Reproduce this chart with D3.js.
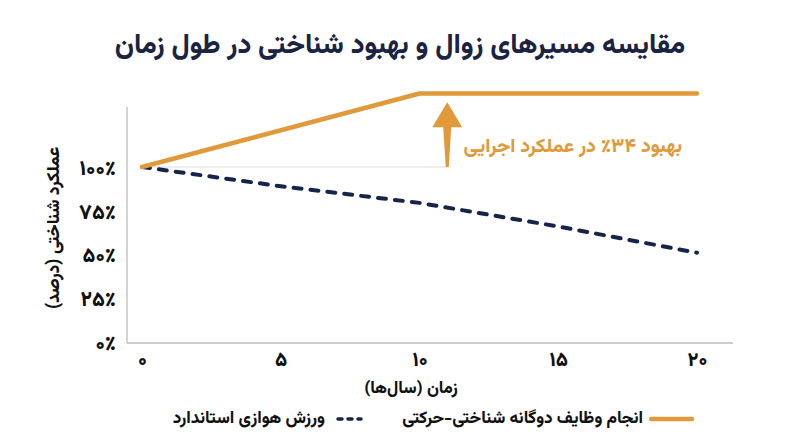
<!DOCTYPE html>
<html><head><meta charset="utf-8">
<script src="https://cdn.jsdelivr.net/npm/d3@7"></script>
<style>
html,body{margin:0;padding:0;background:#fff;}
svg{display:block;}
text{font-family:"Vazirmatn","Noto Sans Arabic","Noto Naskh Arabic","DejaVu Sans",sans-serif;font-weight:800;}
</style></head>
<body>
<svg id="c" width="800" height="447"></svg>
<script>
const title = "مقایسه مسیرهای زوال و بهبود شناختی در طول زمان";
const xTitle = "زمان (سال‌ها)";
const yTitle = "عملکرد شناختی (درصد)";
const xTickValues = [0, 5, 10, 15, 20];
const xTickLabels = ["۰", "۵", "۱۰", "۱۵", "۲۰"];
const yTickValues = [0, 25, 50, 75, 100];
const yTickLabels = ["۰٪", "۲۵٪", "۵۰٪", "۷۵٪", "۱۰۰٪"];
const dualYears = [0, 10, 20];
const dualValues = [100, 142, 142];
const aerobicYears = [0, 5, 10, 15, 20];
const aerobicValues = [100, 89, 79.5, 66, 51];
const seriesNames = ["انجام وظایف دوگانه شناختی-حرکتی", "ورزش هوازی استاندارد"];
const annotationText = "بهبود ۳۴٪ در عملکرد اجرایی";
const annotationYear = 11;
const annotationFrom = 100;
const annotationTo = 137;

const ORANGE = "#E09A3A", NAVY = "#15254A", TITLE = "#1A2442";
const svg = d3.select("#c");
const x = d3.scaleLinear().domain([0, 20]).range([142, 697]);
const y = d3.scaleLinear().domain([0, 100]).range([342, 167]);
const axisLeft = 127, axisRight = 733, axisTopVal = 134.3;

// title
svg.append("text").attr("x", 400).attr("y", 46).attr("direction", "rtl")
  .attr("text-anchor", "middle").attr("dominant-baseline", "middle")
  .attr("font-size", 27.5).attr("fill", TITLE).text(title);

// axes lines
svg.append("line").attr("x1", axisLeft).attr("x2", axisLeft)
  .attr("y1", y(axisTopVal)).attr("y2", y(0) + 1)
  .attr("stroke", "#bdbdbd").attr("stroke-width", 1.3);
svg.append("line").attr("x1", axisLeft).attr("x2", axisRight)
  .attr("y1", y(0) + 1).attr("y2", y(0) + 1)
  .attr("stroke", "#bdbdbd").attr("stroke-width", 1.3);

// x tick labels via axis
const xAxis = d3.axisBottom(x).tickValues(xTickValues)
  .tickFormat((d, i) => xTickLabels[i]).tickSize(0).tickPadding(0);
const gx = svg.append("g").attr("transform", `translate(0,${y(0) + 18})`).call(xAxis);
gx.select(".domain").remove();
gx.attr("font-family", null).attr("font-size", null);
gx.selectAll("text").attr("font-size", 20).attr("fill", "#111").attr("dy", "0.3em");

// y tick labels via axis
const yAxis = d3.axisLeft(y).tickValues(yTickValues)
  .tickFormat((d, i) => yTickLabels[i]).tickSize(0).tickPadding(0);
const gy = svg.append("g").attr("transform", `translate(116,0)`).call(yAxis);
gy.select(".domain").remove();
gy.attr("font-family", null).attr("font-size", null);
gy.selectAll("text").attr("font-size", 21).attr("fill", "#111").attr("dy", "0.35em");

// axis titles
svg.append("text").attr("x", 411).attr("y", 389).attr("direction", "rtl")
  .attr("text-anchor", "middle").attr("dominant-baseline", "middle")
  .attr("font-size", 17).attr("fill", "#111").text(xTitle);
svg.append("text").attr("transform", "translate(54,228) rotate(-90)")
  .attr("direction", "rtl").attr("text-anchor", "middle").attr("dominant-baseline", "middle")
  .attr("font-size", 17.5).attr("fill", "#111").text(yTitle);

// baseline reference line
svg.append("line").attr("x1", x(0)).attr("x2", x(annotationYear))
  .attr("y1", y(100)).attr("y2", y(100)).attr("stroke", "#e8e8e8").attr("stroke-width", 1.5);

// series
const line = d3.line().x(d => x(d[0])).y(d => y(d[1]));
svg.append("path").datum(aerobicYears.map((d, i) => [d, aerobicValues[i]]))
  .attr("d", line).attr("fill", "none").attr("stroke", NAVY).attr("stroke-width", 4)
  .attr("stroke-dasharray", "8,9").attr("stroke-linecap", "round");
svg.append("path").datum(dualYears.map((d, i) => [d, dualValues[i]]))
  .attr("d", line).attr("fill", "none").attr("stroke", ORANGE).attr("stroke-width", 4.5)
  .attr("stroke-linecap", "round").attr("stroke-linejoin", "round");

// arrow
const ax = x(annotationYear), yb = y(annotationFrom), yt = y(annotationTo);
const headBase = yt + 25;
svg.append("path").attr("d",
  `M${ax - 1.5},${yb} L${ax + 1.5},${yb} L${ax + 4},${headBase} L${ax + 15},${headBase} L${ax},${yt} L${ax - 15},${headBase} L${ax - 4},${headBase} Z`)
  .attr("fill", ORANGE);

svg.append("text").attr("x", 682).attr("y", 147).attr("direction", "rtl")
  .attr("text-anchor", "start").attr("dominant-baseline", "middle")
  .attr("font-size", 19.5).attr("fill", ORANGE).text(annotationText);

// legend
const ly = 419;
svg.append("line").attr("x1", 651).attr("x2", 692).attr("y1", ly).attr("y2", ly)
  .attr("stroke", ORANGE).attr("stroke-width", 4.5).attr("stroke-linecap", "round");
svg.append("text").attr("x", 643).attr("y", ly).attr("direction", "rtl")
  .attr("text-anchor", "start").attr("dominant-baseline", "middle")
  .attr("font-size", 17).attr("fill", "#111").text(seriesNames[0]);
svg.append("line").attr("x1", 338).attr("x2", 361).attr("y1", ly).attr("y2", ly)
  .attr("stroke", NAVY).attr("stroke-width", 3.5).attr("stroke-linecap", "round")
  .attr("stroke-dasharray", "4,6");
svg.append("text").attr("x", 325).attr("y", ly).attr("direction", "rtl")
  .attr("text-anchor", "start").attr("dominant-baseline", "middle")
  .attr("font-size", 17).attr("fill", "#111").text(seriesNames[1]);
</script>
</body></html>
